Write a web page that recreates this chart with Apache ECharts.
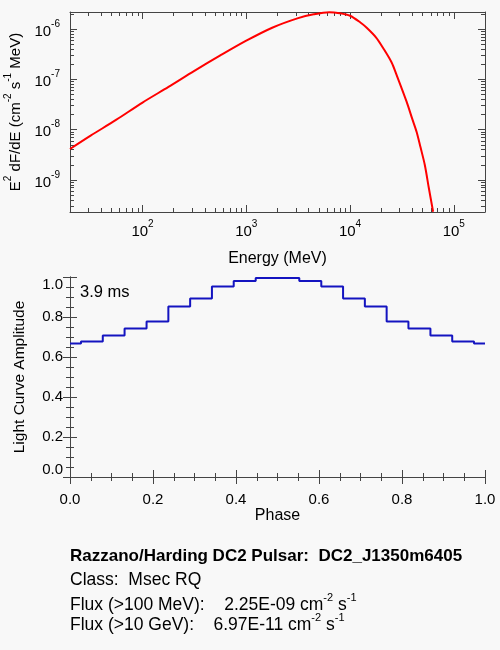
<!DOCTYPE html>
<html>
<head>
<meta charset="utf-8">
<script src="https://cdn.jsdelivr.net/npm/echarts@6/dist/echarts.min.js"></script>
<style>
html, body { margin: 0; padding: 0; background: #f8f8f8; }
#main { width: 500px; height: 650px; }
</style>
</head>
<body>
<div id="main"></div>
<script>
// spectrum
const energyMeV = [20, 31.6, 56, 100, 178, 316, 562, 1000, 1778, 3162, 4467, 6310, 7943, 10000, 12590, 14480, 17780,
  20900, 25120, 28100, 35100, 39800, 43800, 47900, 52600, 57500, 63200]
const e2dfde = [4.12e-9, 7.6e-9, 1.58e-8, 3.47e-8, 7.1e-8, 1.48e-7, 3.0e-7, 5.9e-7, 1.07e-6, 1.66e-6, 1.98e-6, 2.18e-6, 2.08e-6, 1.85e-6, 1.36e-6, 1.07e-6, 6.9e-7,
  4.19e-7, 2.2e-7, 1.23e-7, 3.61e-8, 1.64e-8, 9.1e-9, 4.4e-9, 1.98e-9, 6.9e-10, 2.33e-10]

// light curve
const phase = [0, 0.053, 0.105, 0.158, 0.211, 0.263, 0.316, 0.368, 0.421, 0.474, 0.526, 0.579, 0.632, 0.684, 0.737, 0.789, 0.842, 0.895, 0.947, 1.0]
const amplitude = [0.667, 0.678, 0.707, 0.742, 0.778, 0.853, 0.892, 0.953, 0.98, 0.995, 0.995, 0.98, 0.953, 0.892, 0.853, 0.778, 0.742, 0.707, 0.678, 0.667]

// log axis ticks
const energyMajor = [100, 1000, 10000, 100000]
const energyMinor = [20, 30, 40, 50, 60, 70, 80, 90, 200, 300, 400, 500, 600, 700, 800, 900,
  2000, 3000, 4000, 5000, 6000, 7000, 8000, 9000, 20000, 30000, 40000, 50000, 60000, 70000, 80000, 90000, 200000]
const fluxMajor = [1e-9, 1e-8, 1e-7, 1e-6]
const fluxMinor = [3e-10, 4e-10, 5e-10, 6e-10, 7e-10, 8e-10, 9e-10,
  2e-9, 3e-9, 4e-9, 5e-9, 6e-9, 7e-9, 8e-9, 9e-9,
  2e-8, 3e-8, 4e-8, 5e-8, 6e-8, 7e-8, 8e-8, 9e-8,
  2e-7, 3e-7, 4e-7, 5e-7, 6e-7, 7e-7, 8e-7, 9e-7, 2e-6]

const font = 'Liberation Sans'
const ink = '#444'
const sup = (size, sub, lh) => ({
  b: { fontFamily: font, fontSize: size, color: '#000', lineHeight: lh, verticalAlign: 'bottom' },
  s: { fontFamily: font, fontSize: sub, color: '#000', lineHeight: lh, verticalAlign: 'top' }
})
const tickRich = sup(15, 10, 20)
const nameRich = sup(15, 10, 20)
const infoRich = sup(17.5, 11, 22)
const pow10 = v => '{b|10}{s|' + Math.round(Math.log10(v)) + '}'

function logAxis(grid, pos, min, max, ticks, len, withLine, labels) {
  return {
    type: 'log', logBase: 10, gridIndex: grid, position: pos, min: min, max: max,
    axisLine: { show: withLine, lineStyle: { color: ink, width: 1 } },
    axisTick: { show: true, inside: true, length: len, customValues: ticks, lineStyle: { color: ink } },
    axisLabel: labels ? { show: true, customValues: ticks, formatter: pow10, rich: tickRich, margin: 10 } : { show: false },
    splitLine: { show: false }
  }
}
function linAxis(grid, pos, labels, margin) {
  return {
    type: 'value', gridIndex: grid, position: pos, min: 0, max: 1, interval: 0.2,
    axisLine: { show: true, lineStyle: { color: ink, width: 1 } },
    axisTick: { show: true, inside: true, length: 7, lineStyle: { color: ink } },
    minorTick: { show: true, splitNumber: 4, length: 4, lineStyle: { color: ink } },
    axisLabel: labels ? { show: true, fontFamily: font, fontSize: 15, color: '#000', margin: margin, formatter: v => v.toFixed(1) } : { show: false },
    splitLine: { show: false }
  }
}

const xTopPanel = [
  Object.assign(logAxis(0, 'bottom', 20, 200000, energyMajor, 7, true, true), {
    name: 'Energy (MeV)', nameLocation: 'middle', nameGap: 39,
    nameTextStyle: { fontFamily: font, fontSize: 16, color: '#000' }
  }),
  logAxis(0, 'bottom', 20, 200000, energyMinor, 4, false, false),
  logAxis(0, 'top', 20, 200000, energyMajor, 7, true, false),
  logAxis(0, 'top', 20, 200000, energyMinor, 4, false, false)
]
xTopPanel[0].axisLabel.margin = 7
const yTopPanel = [
  Object.assign(logAxis(0, 'left', 2.3e-10, 2.2e-6, fluxMajor, 7, true, true), {
    name: '{b|E}{s|2}{b| dF/dE (cm}{s|-2}{b| s}{s|-1}{b| MeV)}', nameLocation: 'middle', nameGap: 46, nameRotate: 90,
    nameTextStyle: { rich: nameRich }
  }),
  logAxis(0, 'left', 2.3e-10, 2.2e-6, fluxMinor, 4, false, false),
  logAxis(0, 'right', 2.3e-10, 2.2e-6, fluxMajor, 7, true, false),
  logAxis(0, 'right', 2.3e-10, 2.2e-6, fluxMinor, 4, false, false)
]
const xLow = linAxis(1, 'bottom', true, 15)
xLow.name = 'Phase'
xLow.nameLocation = 'middle'
xLow.nameGap = 26
xLow.nameTextStyle = { fontFamily: font, fontSize: 16, color: '#000' }
const yLow = linAxis(1, 'left', true, 7)
yLow.axisLabel.verticalAlignMinLabel = 'bottom'
yLow.axisLabel.verticalAlignMaxLabel = 'top'
yLow.name = 'Light Curve Amplitude'
yLow.nameLocation = 'middle'
yLow.nameGap = 42.5
yLow.nameTextStyle = { fontFamily: font, fontSize: 15.5, color: '#000' }

const chart = echarts.init(document.getElementById('main'), null, { renderer: 'canvas' })
chart.setOption({
  backgroundColor: '#f8f8f8',
  animation: false,
  grid: [
    { left: 70, top: 12, width: 415, height: 200, outerBoundsMode: 'none', containLabel: false },
    { left: 70, top: 277, width: 415, height: 200, outerBoundsMode: 'none', containLabel: false }
  ],
  xAxis: [...xTopPanel, xLow, linAxis(1, 'top', false, 0)],
  yAxis: [...yTopPanel, yLow, linAxis(1, 'right', false, 0)],
  series: [
    {
      type: 'line', xAxisIndex: 0, yAxisIndex: 0,
      data: energyMeV.map((e, i) => [e, e2dfde[i]]),
      showSymbol: false, smooth: 0.3, clip: true,
      lineStyle: { color: '#ff0000', width: 2 }
    },
    {
      type: 'line', xAxisIndex: 4, yAxisIndex: 4,
      data: phase.map((p, i) => [p, amplitude[i]]),
      step: 'middle', showSymbol: false,
      lineStyle: { color: '#1414c0', width: 2 }
    }
  ],
  graphic: [
    { type: 'text', x: 80, y: 292, style: { text: '3.9 ms', font: '16.5px "Liberation Sans"', fill: '#000', verticalAlign: 'middle' } },
    { type: 'text', x: 70, y: 556.5, style: { text: 'Razzano/Harding DC2 Pulsar:  DC2_J1350m6405', font: 'bold 17px "Liberation Sans"', fill: '#000', verticalAlign: 'middle' } },
    { type: 'text', x: 70, y: 580, style: { text: 'Class:  Msec RQ', font: '17.5px "Liberation Sans"', fill: '#000', verticalAlign: 'middle' } },
    { type: 'text', x: 70, y: 603.3, style: { text: '{b|Flux (>100 MeV):    2.25E-09 cm}{s|-2}{b| s}{s|-1}', rich: infoRich, verticalAlign: 'middle' } },
    { type: 'text', x: 70, y: 623.3, style: { text: '{b|Flux (>10 GeV):    6.97E-11 cm}{s|-2}{b| s}{s|-1}', rich: infoRich, verticalAlign: 'middle' } }
  ]
})
</script>
</body>
</html>
